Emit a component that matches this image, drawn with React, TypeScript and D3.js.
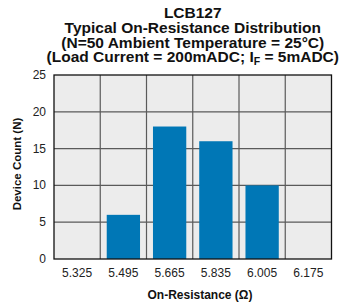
import React, { useRef, useEffect } from 'react';
import * as d3 from 'd3';

const categories = ['5.325', '5.495', '5.665', '5.835', '6.005', '6.175'];
const counts = [0, 6, 18, 16, 10, 0];
const yTicks = [0, 5, 10, 15, 20, 25];

const width = 344;
const height = 307;
const margin = { top: 75, right: 12.5, bottom: 48, left: 54 };
const font = 'Liberation Sans, Arial, Helvetica, sans-serif';

const App = () => {
  const ref = useRef<SVGGElement>(null);

  useEffect(() => {
    const g = d3.select(ref.current);
    g.selectAll('*').remove();
    const iw = width - margin.left - margin.right;
    const ih = height - margin.top - margin.bottom;

    const x = d3.scaleBand().domain(categories).range([0, iw]).paddingInner(0).paddingOuter(0);
    const y = d3.scaleLinear().domain([0, 25]).range([ih, 0]);

    g.append('rect').attr('width', iw).attr('height', ih).attr('fill', '#ececec');

    // grid
    g.selectAll('line.hg')
      .data(yTicks.slice(1, -1))
      .enter()
      .append('line')
      .attr('x1', 0).attr('x2', iw)
      .attr('y1', d => y(d)).attr('y2', d => y(d))
      .attr('stroke', '#5a5a5a').attr('stroke-width', 1.2);
    g.selectAll('line.vg')
      .data(categories.slice(1))
      .enter()
      .append('line')
      .attr('x1', d => x(d)!).attr('x2', d => x(d)!)
      .attr('y1', 0).attr('y2', ih)
      .attr('stroke', '#5a5a5a').attr('stroke-width', 1.2);

    // bars
    const pad = x.bandwidth() * 0.14;
    g.selectAll('rect.bar')
      .data(categories.map((c, i) => ({ c, v: counts[i] })).filter(d => d.v > 0))
      .enter()
      .append('rect')
      .attr('x', d => x(d.c)! + pad)
      .attr('width', x.bandwidth() - pad * 2)
      .attr('y', d => y(d.v))
      .attr('height', d => ih - y(d.v))
      .attr('fill', '#0077b6');

    g.append('rect').attr('width', iw).attr('height', ih)
      .attr('fill', 'none').attr('stroke', '#111').attr('stroke-width', 1.3);

    // tick labels
    g.selectAll('text.yt')
      .data(yTicks)
      .enter()
      .append('text')
      .attr('x', -8).attr('y', d => y(d) + 4)
      .attr('text-anchor', 'end')
      .style('font-size', '12px')
      .attr('fill', '#222')
      .text(d => d);
    g.selectAll('text.xt')
      .data(categories)
      .enter()
      .append('text')
      .attr('x', d => x(d)! + x.bandwidth() / 2).attr('y', ih + 18)
      .attr('text-anchor', 'middle')
      .style('font-size', '12px')
      .attr('fill', '#222')
      .text(d => d);
  }, []);

  const cx = margin.left + (width - margin.left - margin.right) / 2;

  return (
    <svg width={width} height={height} style={{ position: 'absolute', left: 0, top: 0, fontFamily: font }}>
      <rect width={width} height={height} fill="#fff" />
      <g fontWeight="bold" fontSize="15.5px" textAnchor="middle" fill="#111">
        <text x={cx} y={18}>LCB127</text>
        <text x={cx} y={33}>Typical On-Resistance Distribution</text>
        <text x={cx} y={47.5}>(N=50 Ambient Temperature = 25°C)</text>
        <text x={cx} y={62}>
          (Load Current = 200mADC; I<tspan fontSize="10.5px" dy={3}>F</tspan>
          <tspan dy={-3}> = 5mADC)</tspan>
        </text>
      </g>
      <g transform={`translate(${margin.left}, ${margin.top})`} ref={ref} />
      <text x={200} y={299} textAnchor="middle" fontWeight="bold" fontSize="12px" fill="#111">
        On-Resistance (Ω)
      </text>
      <text
        transform="translate(21, 164) rotate(-90)"
        textAnchor="middle" fontWeight="bold" fontSize="11.5px" fill="#111"
      >
        Device Count (N)
      </text>
    </svg>
  );
};

export default App;
